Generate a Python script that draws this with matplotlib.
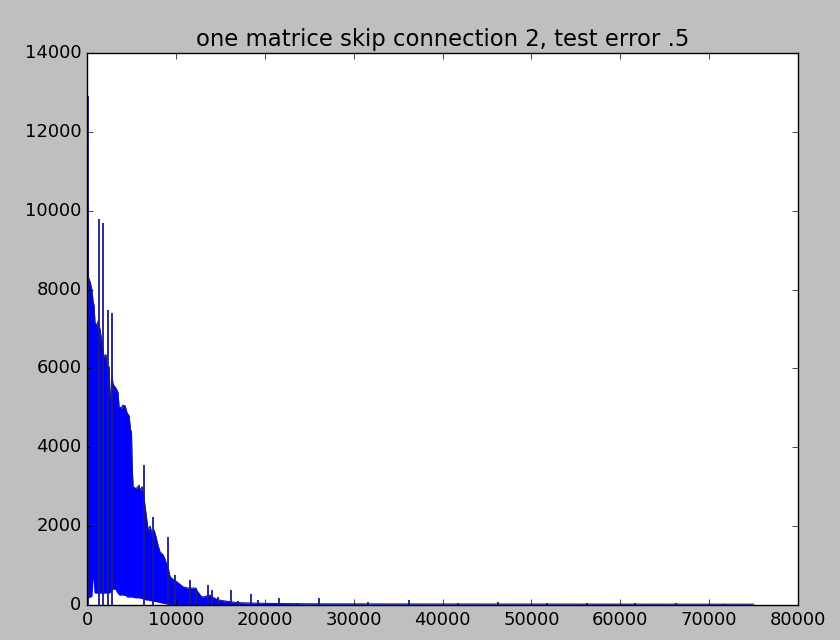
import matplotlib
matplotlib.use("Agg")
import matplotlib.pyplot as plt
import numpy as np

plt.style.use("classic")

# envelope of the dense part of the loss trace
iters = [0, 113, 170, 340, 560, 676, 790, 900, 1130, 1240, 1350, 1465,
         1700, 1916, 2140, 2254, 2479, 2592, 2705, 2817, 2930, 3156, 3381,
         3494, 3606, 3832, 4057, 4283, 4508, 4733, 4900, 5000, 5072, 5184,
         5522, 5860, 6000, 6198, 6424, 6537, 6874, 7100, 7326, 7551, 7776,
         8002, 8227, 8565, 8791, 9016, 9129, 9354, 9692, 10030, 10256,
         10819, 11300, 12172, 12735, 12960, 13862, 14088, 14763, 15553,
         16905, 20000, 25000, 40000, 75000]
loss_hi = [10200, 10100, 8300, 8200, 7990, 7700, 7600, 7150, 7100, 7200,
           7050, 7000, 6600, 6290, 6350, 6000, 6050, 5300, 5270, 5800, 5600,
           5530, 5450, 5380, 5020, 5000, 5070, 5050, 4870, 4800, 4440, 4400,
           3600, 3000, 2950, 3040, 2900, 3000, 2700, 2490, 1900, 2000, 1800,
           1900, 1720, 1500, 1340, 1270, 1150, 1000, 940, 710, 650, 600, 560,
           460, 430, 430, 250, 200, 250, 200, 130, 100, 60, 40, 30, 25, 20]
loss_lo = [150, 170, 180, 200, 220, 680, 320, 300, 300, 300, 300, 300, 300,
           300, 300, 300, 300, 320, 330, 380, 400, 400, 300, 280, 250, 250,
           250, 240, 200, 200, 200, 200, 200, 190, 180, 180, 170, 160, 140,
           130, 120, 110, 100, 90, 80, 70, 60, 40, 35, 30, 20, 15, 10, 10, 8,
           5, 5, 5, 5, 5, 5, 5, 5, 5, 5, 5, 5, 5, 5]

# isolated spikes sticking out of the envelope
spike_iters = [80, 1400, 1750, 2367, 2817, 6424, 7438, 9129, 9918, 11608,
               12280, 13640, 14090, 14760, 16230, 17020, 18480, 19270,
               21640, 23670, 26150, 31670, 36180, 41700, 46200, 51730,
               56240, 61650, 66270, 71680]
spike_loss = [12900, 9800, 9700, 7480, 7400, 3550, 2230, 1720, 760, 630,
              430, 510, 380, 200, 380, 90, 280, 130, 180, 50, 180, 70, 120,
              50, 80, 40, 60, 40, 40, 30]

fig = plt.figure(figsize=(8.4, 6.4), dpi=100)
ax = fig.add_axes([0.1036, 0.0547, 0.8464, 0.8625])

ax.fill_between(iters, loss_lo, loss_hi, color="b", lw=0)
ax.plot(iters, loss_hi, color="#1a1a8c", lw=0.8)
ax.vlines(spike_iters, 0, spike_loss, color="#1a1a8c", lw=1.3)

ax.set_xlim(0, 80000)
ax.set_ylim(0, 14000)
ax.tick_params(labelsize=13)
ax.set_title("one matrice skip connection 2, test error .5", fontsize=16.4)

fig.savefig("out.png", dpi=100, facecolor=fig.get_facecolor())
